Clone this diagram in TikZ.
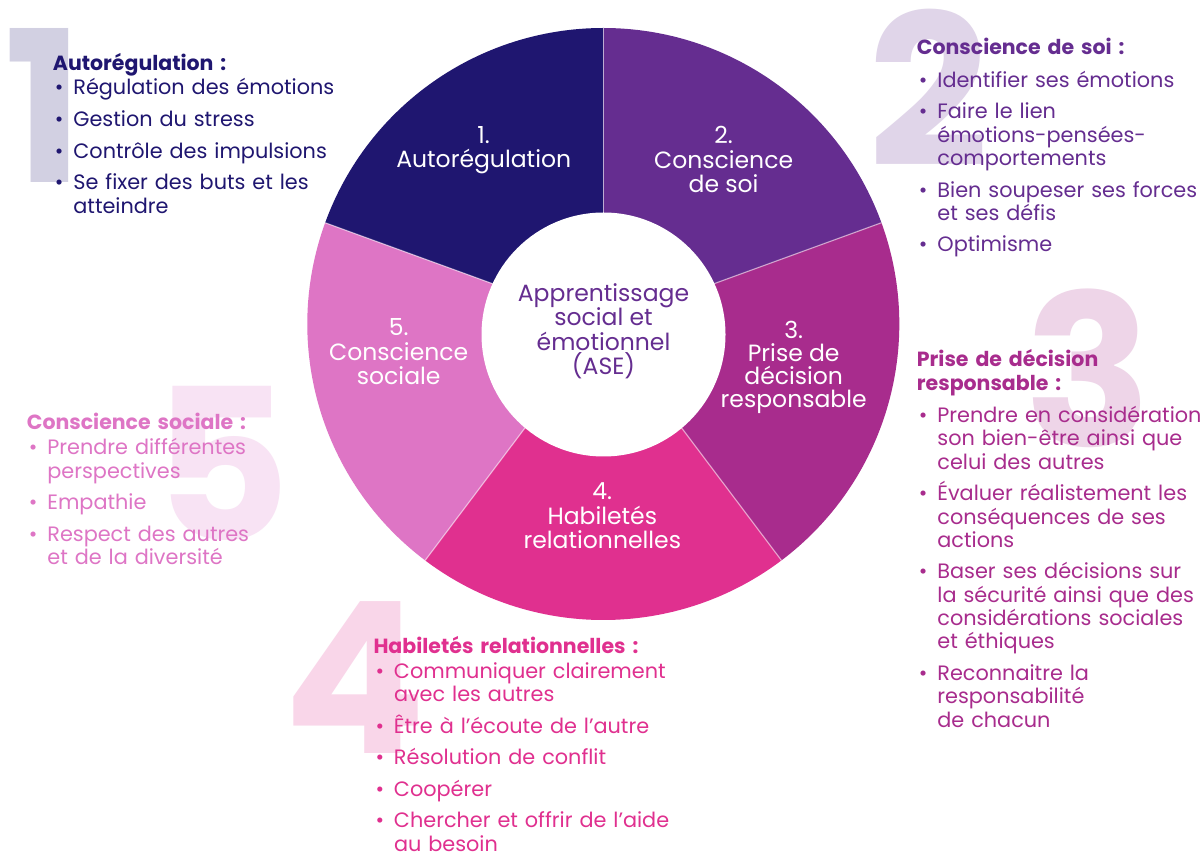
\documentclass[tikz,border=0pt]{standalone}
\usepackage{fontspec}
\setmainfont{Poppins}
\usepackage{xcolor}

% --- FARBEN ---
\definecolor{autoreg}{HTML}{1F1670}
\definecolor{consoi}{HTML}{652D90}
\definecolor{decision}{HTML}{A82C8D}
\definecolor{relation}{HTML}{E0308F}
\definecolor{sociale}{HTML}{DE75C5}

% Titel und Aufzaehlungspunkte der Listen
\newcommand\titre[1]{{\bfseries\fontsize{20.5}{23.3}\selectfont #1}\par}
\newcommand\puce[2][8.3pt]{\vspace{#1}\hangindent=20.5pt\hangafter=1\noindent\hbox to 20.5pt{\hskip2pt\textbullet\hfil}#2\par}

\begin{document}
\begin{tikzpicture}[
    x=1pt, y=1pt,
    chiffre/.style={anchor=base, inner sep=0pt, font=\bfseries\fontsize{211}{211}\selectfont},
    liste/.style={anchor=base west, text width=300pt, align=left, inner sep=0pt, font=\fontsize{20.8}{23.3}\selectfont},
    secteur/.style={anchor=base, align=center, inner sep=0pt, text=white, font=\fontsize{23.5}{24.5}\selectfont}
]

% --- PARAMETER ---
\def\R{296}     % Aussenradius
\def\r{122}     % Innenradius

\path[use as bounding box, fill=white] (0,0) rectangle (1204,852);

% --- GROSSE ZIFFERN IM HINTERGRUND ---
\node[chiffre, text=autoreg!20] (z1) at (44,669) {1};
\node[chiffre, text=consoi!20] (z2) at (929,685) {2};
\node[chiffre, text=decision!20] (z3) at (1088,405) {3};
\node[chiffre, text=relation!20] (z4) at (355,99) {4};
\node[chiffre, text=sociale!20] (z5) at (222,312) {5};

% --- RING ---
\begin{scope}[shift={(603.3,528)}]
    \fill[autoreg] (0,0) -- (90:\R) arc[start angle=90, end angle=160, radius=\R] -- cycle;
    \fill[consoi] (0,0) -- (20:\R) arc[start angle=20, end angle=90, radius=\R] -- cycle;
    \fill[decision] (0,0) -- (-53:\R) arc[start angle=-53, end angle=20, radius=\R] -- cycle;
    \fill[relation] (0,0) -- (-127:\R) arc[start angle=-127, end angle=-53, radius=\R] -- cycle;
    \fill[sociale] (0,0) -- (160:\R) arc[start angle=160, end angle=233, radius=\R] -- cycle;
    % Trennlinien
    \foreach \a in {90,20,-53,-127,160}
        \draw[white, opacity=.5, line width=1.2pt] (0,0) -- (\a:\R);
\end{scope}
\node[circle, fill=white, inner sep=0pt, minimum size=2*\r] (mitte) at (603.5,517.5) {};

% --- BESCHRIFTUNG DER SEGMENTE (Position = Grundlinie der letzten Zeile) ---
\node[secteur] (s1) at (483.7,684) {1.\\Autorégulation};
\node[secteur] (s2) at (723.6,659) {2.\\Conscience\\de soi};
\node[secteur, font=\fontsize{23.5}{23.2}\selectfont] (s3) at (793.7,444) {3.\\Prise de\\décision\\responsable};
\node[secteur] (s4) at (602.3,303) {4.\\Habiletés\\relationnelles};
\node[secteur] (s5) at (398.7,467) {5.\\Conscience\\sociale};
\node[secteur, text=consoi] (ase) at (603.5,477) {Apprentissage\\social et\\émotionnel\\(ASE)};

% --- LISTEN ---
\node[liste, text=autoreg] (l1) at (52.7,781.3) {%
    \titre{Autorégulation :}
    \puce[1pt]{Régulation des émotions}
    \puce{Gestion du stress}
    \puce{Contrôle des impulsions}
    \puce{Se fixer des buts et les\newline atteindre}};

\node[liste, text=consoi] (l2) at (916.7,797) {%
    \titre{Conscience de soi :}
    \puce[9pt]{Identifier ses émotions}
    \puce{Faire le lien\newline émotions-pensées-\newline comportements}
    \puce{Bien soupeser ses forces\newline et ses défis}
    \puce{Optimisme}};

\node[liste, text=decision] (l3) at (916.7,485) {%
    \titre{Prise de décision\newline responsable :}
    \puce[9pt]{Prendre en considération\newline son bien-être ainsi que\newline celui des autres}
    \puce{Évaluer réalistement les\newline conséquences de ses\newline actions}
    \puce{Baser ses décisions sur\newline la sécurité ainsi que des\newline considérations sociales\newline et éthiques}
    \puce{Reconnaitre la\newline responsabilité\newline de chacun}};

\node[liste, text=relation] (l4) at (373.3,198.7) {%
    \titre{Habiletés relationnelles :}
    \puce[1.5pt]{Communiquer clairement\newline avec les autres}
    \puce{Être à l’écoute de l’autre}
    \puce{Résolution de conflit}
    \puce{Coopérer}
    \puce{Chercher et offrir de l’aide\newline au besoin}};

\node[liste, text=sociale] (l5) at (26.7,422) {%
    \titre{Conscience sociale :}
    \puce[1.5pt]{Prendre différentes\newline perspectives}
    \puce{Empathie}
    \puce{Respect des autres\newline et de la diversité}};
\end{tikzpicture}
\end{document}
